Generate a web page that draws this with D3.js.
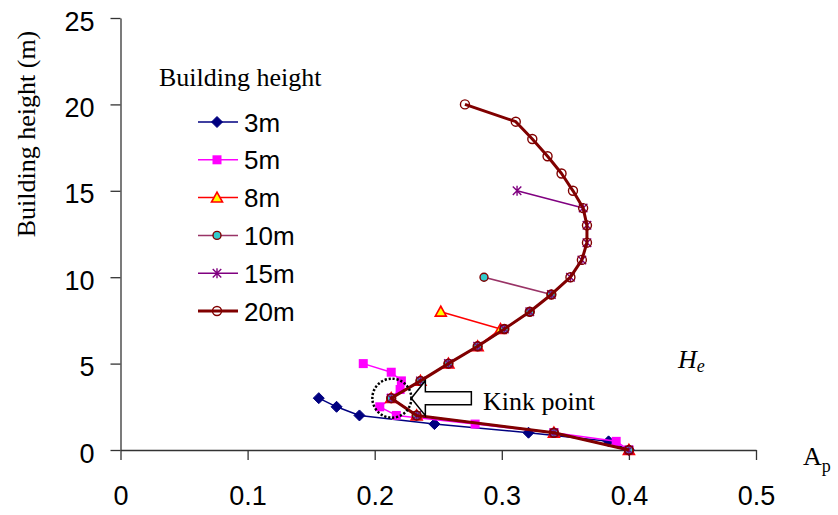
<!DOCTYPE html>
<html>
<head>
<meta charset="utf-8">
<script src="https://cdn.jsdelivr.net/npm/d3@7"></script>
<style>
  html, body { margin: 0; padding: 0; background: #fff; }
  svg { display: block; }
  .tick text { font-family: "Liberation Sans", Arial, sans-serif; font-size: 27px; fill: #000; }
  .serif { font-family: "Liberation Serif", "Times New Roman", serif; font-weight: normal; fill: #000; }
</style>
</head>
<body>
<svg id="chart" width="838" height="515"></svg>
<script>
// Pressure coefficient A_p against height, one series per building height
const heights3  = [0, 0.5, 1, 1.5, 2, 2.5, 3];
const ap3       = [0.400, 0.384, 0.321, 0.247, 0.188, 0.170, 0.156];

const heights5  = [0, 0.5, 1, 1.5, 2, 2.5, 3, 3.5, 4, 4.5, 5];
const ap5       = [0.400, 0.390, 0.341, 0.279, 0.217, 0.204, 0.213, 0.220, 0.221, 0.213, 0.191];

const heights8  = [0, 1, 2, 3, 4, 5, 6, 7, 8];
const ap8       = [0.400, 0.341, 0.233, 0.213, 0.236, 0.258, 0.281, 0.299, 0.252];

const heights10 = [0, 1, 2, 3, 4, 5, 6, 7, 8, 9, 10];
const ap10      = [0.400, 0.341, 0.233, 0.213, 0.236, 0.258, 0.281, 0.302, 0.322, 0.339, 0.286];

const heights15 = [0, 1, 2, 3, 4, 5, 6, 7, 8, 9, 10, 11, 12, 13, 14, 15];
const ap15      = [0.400, 0.341, 0.233, 0.213, 0.236, 0.258, 0.281, 0.302, 0.322, 0.339,
                   0.354, 0.363, 0.367, 0.367, 0.364, 0.312];

const heights20 = [0, 1, 2, 3, 4, 5, 6, 7, 8, 9, 10, 11, 12, 13, 14, 15, 16, 17, 18, 19, 20];
const ap20      = [0.400, 0.341, 0.233, 0.213, 0.236, 0.258, 0.281, 0.302, 0.322, 0.339,
                   0.354, 0.363, 0.367, 0.367, 0.364, 0.356, 0.347, 0.336, 0.324, 0.311, 0.271];

const seriesNames = ["3m", "5m", "8m", "10m", "15m", "20m"];
const xTicks = [0, 0.1, 0.2, 0.3, 0.4, 0.5];
const yTicks = [0, 5, 10, 15, 20, 25];
const kinkPoint = { ap: 0.2135, h: 3 };

const series = [
  { name: seriesNames[0], h: heights3,  ap: ap3,  line: "#000080", width: 1.5, marker: "diamond" },
  { name: seriesNames[1], h: heights5,  ap: ap5,  line: "#ff00ff", width: 1.5, marker: "square" },
  { name: seriesNames[2], h: heights8,  ap: ap8,  line: "#ff0000", width: 1.5, marker: "triangle" },
  { name: seriesNames[3], h: heights10, ap: ap10, line: "#993366", width: 1.5, marker: "dot" },
  { name: seriesNames[4], h: heights15, ap: ap15, line: "#800080", width: 1.5, marker: "star" },
  { name: seriesNames[5], h: heights20, ap: ap20, line: "#800000", width: 3,   marker: "ring" }
];

const svg = d3.select("#chart");
const x = d3.scaleLinear().domain([0, 0.5]).range([120.5, 756]);
const y = d3.scaleLinear().domain([0, 25]).range([450, 18]);

// Axes
const xAxis = d3.axisBottom(x).tickValues(xTicks).tickSize(10).tickSizeOuter(0).tickPadding(26)
  .tickFormat(d3.format("~g"));
const yAxis = d3.axisLeft(y).tickValues(yTicks).tickSize(10).tickSizeOuter(0).tickPadding(16);

const gx = svg.append("g").attr("transform", `translate(0,${y(0)})`).call(xAxis);
const gy = svg.append("g").attr("transform", `translate(${x(0)},0)`).call(yAxis);
[gx, gy].forEach(g => {
  g.select(".domain").attr("stroke", "#333").attr("stroke-width", 1.3);
  g.selectAll(".tick line").attr("stroke", "#333").attr("stroke-width", 1.3);
});
gy.selectAll(".tick text").attr("dy", "0.45em");

// Marker drawing
function drawMarker(g, type, cx, cy) {
  if (type === "diamond") {
    const r = 5.5;
    g.append("path").attr("d", `M${cx},${cy - r}L${cx + r},${cy}L${cx},${cy + r}L${cx - r},${cy}Z`)
      .attr("fill", "#000080").attr("stroke", "#000080").attr("stroke-width", 1);
  } else if (type === "square") {
    const s = 9;
    g.append("rect").attr("x", cx - s / 2).attr("y", cy - s / 2).attr("width", s).attr("height", s)
      .attr("fill", "#ff00ff");
  } else if (type === "triangle") {
    const r = 5.5;
    g.append("path").attr("d", `M${cx},${cy - r}L${cx + r},${cy + r * 0.8}L${cx - r},${cy + r * 0.8}Z`)
      .attr("fill", "#ffff00").attr("stroke", "#ff0000").attr("stroke-width", 1.6);
  } else if (type === "dot") {
    g.append("circle").attr("cx", cx).attr("cy", cy).attr("r", 4)
      .attr("fill", "#33cccc").attr("stroke", "#800000").attr("stroke-width", 1.4);
  } else if (type === "star") {
    const r = 5;
    const d = r * 0.85;
    g.append("path")
      .attr("d", `M${cx},${cy - r}L${cx},${cy + r}M${cx - d},${cy - d}L${cx + d},${cy + d}M${cx - d},${cy + d}L${cx + d},${cy - d}`)
      .attr("stroke", "#800080").attr("stroke-width", 1.4).attr("fill", "none");
  } else if (type === "ring") {
    g.append("circle").attr("cx", cx).attr("cy", cy).attr("r", 4.5)
      .attr("fill", "none").attr("stroke", "#800000").attr("stroke-width", 1.4);
  }
}

const line = d3.line().x(d => x(d.ap)).y(d => y(d.h));

series.forEach(s => {
  const pts = s.h.map((h, i) => ({ h, ap: s.ap[i] }));
  const g = svg.append("g");
  g.append("path").datum(pts).attr("d", line)
    .attr("fill", "none").attr("stroke", s.line).attr("stroke-width", s.width)
    .attr("stroke-linejoin", "round");
  pts.forEach(p => drawMarker(g, s.marker, x(p.ap), y(p.h)));
});

// Legend
const legend = svg.append("g");
legend.append("text").attr("class", "serif").attr("x", 159).attr("y", 86)
  .attr("font-size", 26).text("Building height");
series.forEach((s, i) => {
  const ly = 122 + i * 37.8;
  legend.append("line").attr("x1", 198).attr("x2", 238).attr("y1", ly).attr("y2", ly)
    .attr("stroke", s.line).attr("stroke-width", s.width);
  drawMarker(legend, s.marker, 217, ly);
  legend.append("text").attr("x", 244).attr("y", ly + 9.5)
    .attr("font-family", "'Liberation Sans', Arial, sans-serif").attr("font-size", 26)
    .text(s.name);
});

// Kink point annotation: dotted ring round the kink and a hollow arrow pointing at it
const kx = x(kinkPoint.ap), ky = y(kinkPoint.h);
const tipX = kx + 19.5;
svg.append("path")
  .attr("d", `M${tipX},${ky}L${tipX + 14},${ky - 17.5}L${tipX + 14},${ky - 6.5}L${tipX + 60},${ky - 6.5}` +
             `L${tipX + 60},${ky + 6.5}L${tipX + 14},${ky + 6.5}L${tipX + 14},${ky + 17.5}Z`)
  .attr("fill", "#fff").attr("stroke", "#000").attr("stroke-width", 1.5);
svg.append("circle").attr("cx", kx).attr("cy", ky).attr("r", 19.5)
  .attr("fill", "none").attr("stroke", "#000").attr("stroke-width", 2.5)
  .attr("stroke-dasharray", "2.2,1.8");
svg.append("text").attr("class", "serif").attr("x", 483).attr("y", 410)
  .attr("font-size", 26).text("Kink point");

// Axis titles
svg.append("text").attr("class", "serif")
  .attr("transform", "translate(35,134) rotate(-90)")
  .attr("text-anchor", "middle").attr("font-size", 26).text("Building height (m)");

const apLabel = svg.append("text").attr("class", "serif").attr("x", 803).attr("y", 465).attr("font-size", 26);
apLabel.append("tspan").text("A");
apLabel.append("tspan").attr("font-size", 18).attr("dy", 7).text("p");

const heLabel = svg.append("text").attr("class", "serif").attr("x", 678).attr("y", 368)
  .attr("font-size", 26).attr("font-style", "italic");
heLabel.append("tspan").text("H");
heLabel.append("tspan").attr("font-size", 18).attr("dy", 4).text("e");
</script>
</body>
</html>
